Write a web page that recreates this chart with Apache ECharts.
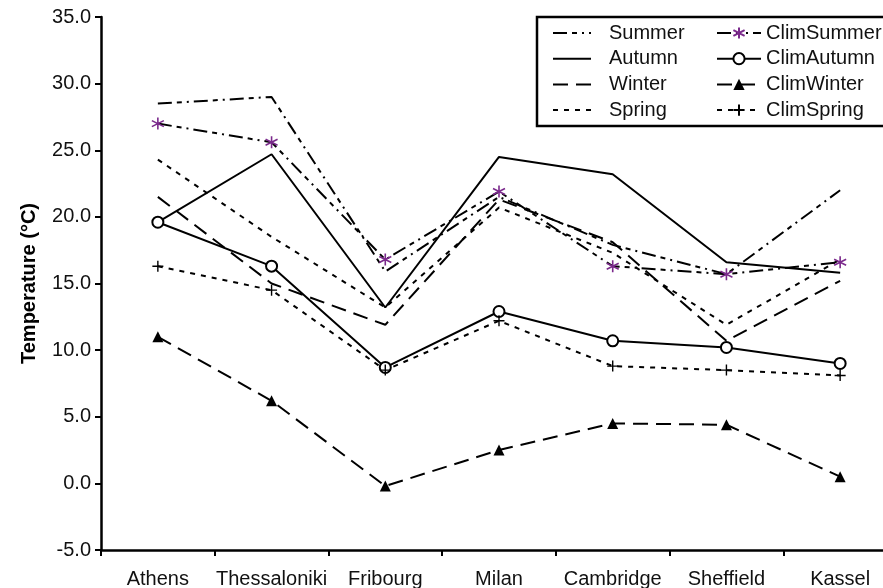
<!DOCTYPE html>
<html>
<head>
<meta charset="utf-8">
<script src="https://cdn.jsdelivr.net/npm/echarts@6/dist/echarts.min.js"></script>
<style>html,body{margin:0;padding:0;background:#fff}#c{width:883px;height:588px}</style>
</head>
<body>
<div id="c"></div>
<script>
const cities = ['Athens','Thessaloniki','Fribourg','Milan','Cambridge','Sheffield','Kassel'];
const summer     = [28.5, 29.0, 15.9, 21.5, 17.9, 15.7, 22.0];
const autumn     = [19.6, 24.7, 13.2, 24.5, 23.2, 16.6, 15.8];
const winter     = [21.5, 15.0, 11.9, 21.3, 18.1, 10.7, 15.2];
const spring     = [24.3, 18.5, 13.2, 20.7, 17.3, 11.9, 16.8];
const climSummer = [27.0, 25.6, 16.8, 21.9, 16.3, 15.7, 16.6];
const climAutumn = [19.6, 16.3, 8.7, 12.9, 10.7, 10.2, 9.0];
const climWinter = [11.0, 6.2, -0.2, 2.5, 4.5, 4.4, 0.5];
const climSpring = [16.3, 14.5, 8.5, 12.2, 8.8, 8.5, 8.1];
const yTicks = [-5, 0, 5, 10, 15, 20, 25, 30, 35];
const seasonNames = ['Summer', 'Autumn', 'Winter', 'Spring'];
const climNames = ['ClimSummer', 'ClimAutumn', 'ClimWinter', 'ClimSpring'];

const FONT = 'Liberation Sans, Arial, sans-serif';
const dashSummer = [14, 5, 5, 5, 2, 5];
const dashWinter = [15, 8];
const dashSpring = [5, 6];
const starPath = 'path://M5,0L5,10M0.7,2.5L9.3,7.5M0.7,7.5L9.3,2.5';
const plusPath = 'path://M5,0L5,10M0,5L10,5';

function mk(name, data, dash, symbol, size, itemStyle) {
  return {
    name: name, type: 'line', data: data,
    symbol: symbol || 'none', symbolSize: size || 10,
    showSymbol: !!symbol,
    lineStyle: {color: '#000', width: 2, type: dash},
    itemStyle: itemStyle || {color: '#000'},
    emphasis: {disabled: true},
    z: 3
  };
}

const chart = echarts.init(document.getElementById('c'), null, {renderer: 'canvas'});
chart.setOption({
  animation: false,
  backgroundColor: '#fff',
  textStyle: {fontFamily: FONT},
  grid: {left: 101, top: 17, bottom: 38, right: -14, containLabel: false, outerBoundsMode: 'none'},
  xAxis: {
    type: 'category', data: cities, boundaryGap: true,
    axisLine: {onZero: false, lineStyle: {color: '#000', width: 2.5}},
    axisTick: {show: true, length: 6, lineStyle: {color: '#000', width: 2}},
    axisLabel: {color: '#111', fontSize: 20, fontFamily: FONT, margin: 19, interval: 0}
  },
  yAxis: {
    type: 'value', min: yTicks[0], max: yTicks[yTicks.length - 1], interval: 5,
    name: 'Temperature (°C)', nameLocation: 'middle', nameGap: 62,
    nameTextStyle: {color: '#000', fontSize: 20, fontWeight: 'bold', fontFamily: FONT},
    axisLine: {show: true, lineStyle: {color: '#000', width: 2.5}},
    axisTick: {show: true, length: 6, lineStyle: {color: '#000', width: 2}},
    splitLine: {show: false},
    axisLabel: {color: '#111', fontSize: 20, fontFamily: FONT, margin: 10,
      formatter: v => v.toFixed(1)}
  },
  graphic: [{
    type: 'rect', z: 1,
    shape: {x: 537, y: 17, width: 360, height: 109},
    style: {fill: 'rgba(0,0,0,0)', stroke: '#000', lineWidth: 2.5}
  }],
  legend: [{
    data: seasonNames.map(n => ({name: n, itemStyle: {color: 'rgba(0,0,0,0)', borderWidth: 0, opacity: 0}})),
    orient: 'vertical', left: 552, top: 23, itemWidth: 38, itemHeight: 14, itemGap: 5.7,
    selectedMode: false, padding: 0,
    textStyle: {color: '#111', fontSize: 20, fontFamily: FONT, padding: [0, 0, 0, 13]}
  }, {
    data: climNames,
    orient: 'vertical', left: 716, top: 23, itemWidth: 44, itemHeight: 14, itemGap: 5.7,
    selectedMode: false, padding: 0,
    textStyle: {color: '#111', fontSize: 20, fontFamily: FONT}
  }],
  series: [
    mk('Summer', summer, dashSummer),
    mk('Autumn', autumn, 'solid'),
    mk('Winter', winter, dashWinter),
    mk('Spring', spring, dashSpring),
    mk('ClimSummer', climSummer, dashSummer, starPath, 12,
       {color: 'rgba(0,0,0,0)', borderColor: '#7b2a8c', borderWidth: 1.6}),
    mk('ClimAutumn', climAutumn, 'solid', 'emptyCircle', 11,
       {color: '#000', borderColor: '#000', borderWidth: 1}),
    mk('ClimWinter', climWinter, dashWinter, 'triangle', 11, {color: '#000'}),
    mk('ClimSpring', climSpring, dashSpring, plusPath, 11,
       {color: 'rgba(0,0,0,0)', borderColor: '#000', borderWidth: 1.4})
  ]
});
</script>
</body>
</html>
